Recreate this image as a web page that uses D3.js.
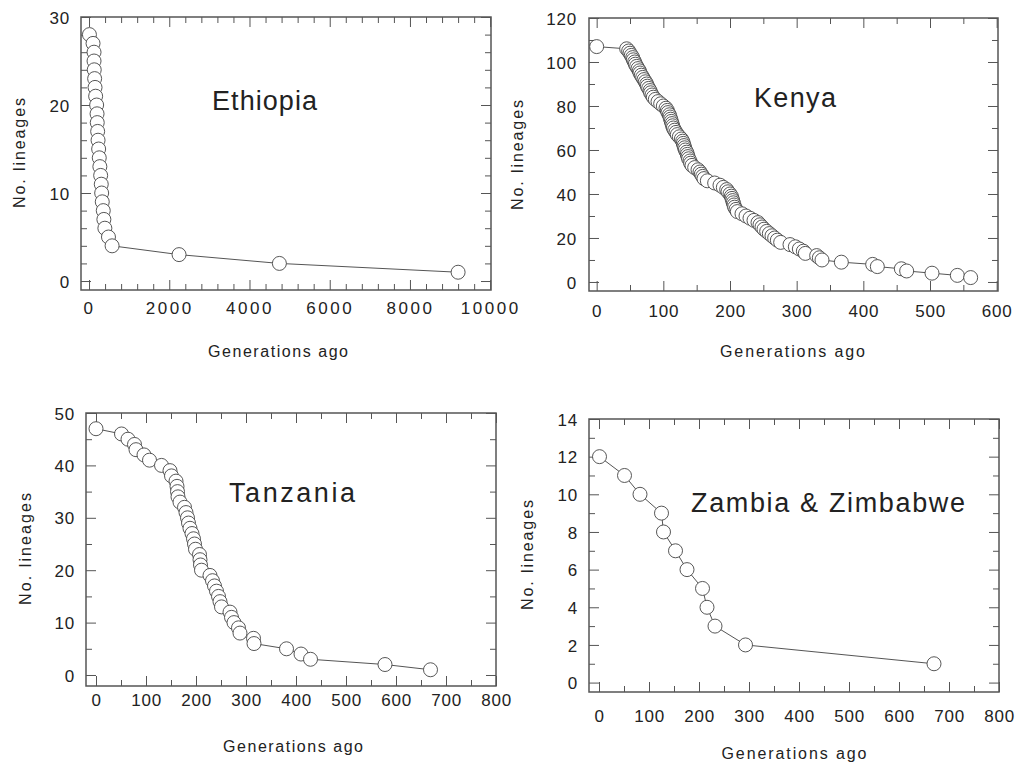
<!DOCTYPE html>
<html><head><meta charset="utf-8">
<script src="https://cdn.jsdelivr.net/npm/d3@7"></script>
<style>
body{margin:0;background:#fff;}
svg text{font-family:"Liberation Sans", Arial, sans-serif; fill:#222;}
</style></head><body>
<svg id="chart" width="1021" height="767"></svg>
<script>
// ---------- DATA ----------
const ethiopiaGen = [10, 100, 125, 125, 130, 140, 150, 165, 190, 200, 205, 215, 225, 240, 255, 270, 290, 305, 315, 330, 355, 370, 395, 485, 575, 2244, 4745, 9200];
const ethiopiaLineages = [28, 27, 26, 25, 24, 23, 22, 21, 20, 19, 18, 17, 16, 15, 14, 13, 12, 11, 10, 9, 8, 7, 6, 5, 4, 3, 2, 1];
const ethiopiaXTicks = [0, 2000, 4000, 6000, 8000, 10000];
const ethiopiaYTicks = [0, 10, 20, 30];

const kenyaGen = [0, 45, 48, 50, 52, 54, 55, 57, 58, 60, 62, 64, 65, 67, 69, 71, 73, 75, 76, 78, 80, 81, 83, 85, 88, 92, 96, 100, 104, 106,
  107, 109, 110, 111, 112, 113, 114, 115, 117, 119, 121, 124, 127, 129, 130, 131, 132, 133, 135, 136, 137, 138, 140, 141, 143, 147, 152, 155, 157, 159,
  161, 166, 177, 185, 190, 195, 197, 200, 202, 203, 204, 205, 206, 207, 209, 211, 218, 224, 230, 236, 242, 245, 248, 251, 255, 259, 263, 267, 271, 276,
  290, 298, 304, 310, 313, 330, 334, 338, 367, 414, 421, 457, 465, 503, 541, 561];
const kenyaLineages = [107, 106, 105, 104, 103, 102, 101, 100, 99, 98, 97, 96, 95, 94, 93, 92, 91, 90, 89, 88, 87, 86, 85, 84, 83, 82, 81, 80, 79, 78,
  77, 76, 75, 74, 73, 72, 71, 70, 69, 68, 67, 66, 65, 64, 63, 62, 61, 60, 59, 58, 57, 56, 55, 54, 53, 52, 51, 50, 49, 48,
  47, 46, 45, 44, 43, 42, 41, 40, 39, 38, 37, 36, 35, 34, 33, 32, 31, 30, 29, 28, 27, 26, 25, 24, 23, 22, 21, 20, 19, 18,
  17, 16, 15, 14, 13, 12, 11, 10, 9, 8, 7, 6, 5, 4, 3, 2];
const kenyaXTicks = [0, 100, 200, 300, 400, 500, 600];
const kenyaYTicks = [0, 20, 40, 60, 80, 100, 120];

const tanzaniaGen = [0, 51, 64, 77, 80, 96, 107, 131, 148, 151, 160, 162, 163, 164, 168, 177, 180, 183, 185, 188, 192, 195, 197, 199, 207, 208, 209, 211,
  228, 233, 237, 241, 245, 248, 251, 268, 271, 276, 285, 288, 315, 316, 381, 410, 429, 578, 669];
const tanzaniaLineages = [47, 46, 45, 44, 43, 42, 41, 40, 39, 38, 37, 36, 35, 34, 33, 32, 31, 30, 29, 28, 27, 26, 25, 24, 23, 22, 21, 20,
  19, 18, 17, 16, 15, 14, 13, 12, 11, 10, 9, 8, 7, 6, 5, 4, 3, 2, 1];
const tanzaniaXTicks = [0, 100, 200, 300, 400, 500, 600, 700, 800];
const tanzaniaYTicks = [0, 10, 20, 30, 40, 50];

const zambiaGen = [1, 51, 82, 125, 129, 153, 176, 207, 216, 232, 293, 670];
const zambiaLineages = [12, 11, 10, 9, 8, 7, 6, 5, 4, 3, 2, 1];
const zambiaXTicks = [0, 100, 200, 300, 400, 500, 600, 700, 800];
const zambiaYTicks = [0, 2, 4, 6, 8, 10, 12, 14];

const titles = ["Ethiopia", "Kenya", "Tanzania", "Zambia & Zimbabwe"];
const xAxisTitle = "Generations ago";
const yAxisTitle = "No. lineages";

// ---------- LAYOUT ----------
const panels = [
  { gen: ethiopiaGen, lin: ethiopiaLineages, xTicks: ethiopiaXTicks, yTicks: ethiopiaYTicks, title: titles[0],
    xDomain: [-200, 10020], yDomain: [-1.02, 30], frame: [81, 491, 17, 290],
    xMinor: [0, 10000, 400], yMinor: [0, 30, 2], xLabY: 308, yLabPad: 11, xLs: 2.5,
    tPos: [264.5, 110, 105], xtPos: [278, 357, 140], ytPos: [25, 153, 110] },
  { gen: kenyaGen, lin: kenyaLineages, xTicks: kenyaXTicks, yTicks: kenyaYTicks, title: titles[1],
    xDomain: [-11.5, 602], yDomain: [-4.1, 120], frame: [589, 998, 18, 291],
    xMinor: [0, 600, 50], yMinor: [0, 120, 10], xLabY: 311, yLabPad: 12, xLs: 0.8,
    tPos: [795, 107, 82], xtPos: [792.5, 357, 145], ytPos: [523, 155, 110] },
  { gen: tanzaniaGen, lin: tanzaniaLineages, xTicks: tanzaniaXTicks, yTicks: tanzaniaYTicks, title: titles[2],
    xDomain: [-20, 800], yDomain: [-2.1, 50], frame: [86, 496, 413, 686],
    xMinor: [0, 800, 50], yMinor: [0, 50, 5], xLabY: 700, yLabPad: 11, xLs: 0.8,
    tPos: [292, 502, 126], xtPos: [293, 752, 140], ytPos: [31, 549, 112] },
  { gen: zambiaGen, lin: zambiaLineages, xTicks: zambiaXTicks, yTicks: zambiaYTicks, title: titles[3],
    xDomain: [-20, 800], yDomain: [-0.5, 14], frame: [589, 999, 419, 692],
    xMinor: [0, 800, 50], yMinor: [0, 14, 1], xLabY: 716, yLabPad: 11, xLs: 0.8,
    tPos: [828, 512, 274], xtPos: [794, 759, 145], ytPos: [533, 555, 110] }
];

const svg = d3.select("#chart");
svg.append("rect").attr("width", 1021).attr("height", 767).attr("fill", "#fff");

function styleAxis(sel) {
  sel.select(".domain").remove();
  sel.selectAll(".tick line").attr("stroke", "#555").attr("stroke-width", 1);
  sel.attr("font-family", null).attr("font-size", null);
}

function drawPanel(p) {
  const [x0, x1, y0, y1] = p.frame;
  const g = svg.append("g");
  const x = d3.scaleLinear().domain(p.xDomain).range([x0, x1]);
  const y = d3.scaleLinear().domain(p.yDomain).range([y1, y0]);

  const xMinorVals = d3.range(p.xMinor[0], p.xMinor[1] + 1e-9, p.xMinor[2]).filter(v => !p.xTicks.includes(v));
  const yMinorVals = d3.range(p.yMinor[0], p.yMinor[1] + 1e-9, p.yMinor[2]).filter(v => !p.yTicks.includes(v));

  // minor ticks on all four sides
  g.append("g").attr("transform", `translate(0,${y1})`)
    .call(d3.axisBottom(x).tickValues(xMinorVals).tickSize(-6).tickFormat("")).call(styleAxis);
  g.append("g").attr("transform", `translate(0,${y0})`)
    .call(d3.axisTop(x).tickValues(xMinorVals).tickSize(-6).tickFormat("")).call(styleAxis);
  g.append("g").attr("transform", `translate(${x0},0)`)
    .call(d3.axisLeft(y).tickValues(yMinorVals).tickSize(-6).tickFormat("")).call(styleAxis);
  g.append("g").attr("transform", `translate(${x1},0)`)
    .call(d3.axisRight(y).tickValues(yMinorVals).tickSize(-6).tickFormat("")).call(styleAxis);

  // major ticks
  const bx = g.append("g").attr("transform", `translate(0,${y1})`)
    .call(d3.axisBottom(x).tickValues(p.xTicks).tickSize(-10).tickPadding(0).tickFormat(d3.format("d")))
    .call(styleAxis);
  bx.selectAll(".tick text").attr("y", p.xLabY - y1).attr("dy", "0.36em")
    .attr("font-size", 17).attr("letter-spacing", p.xLs + "px");
  g.append("g").attr("transform", `translate(0,${y0})`)
    .call(d3.axisTop(x).tickValues(p.xTicks).tickSize(-10).tickFormat("")).call(styleAxis);
  const ly = g.append("g").attr("transform", `translate(${x0},0)`)
    .call(d3.axisLeft(y).tickValues(p.yTicks).tickSize(-10).tickPadding(p.yLabPad).tickFormat(d3.format("d")))
    .call(styleAxis);
  ly.selectAll(".tick text").attr("x", -p.yLabPad).attr("dy", "0.36em").attr("font-size", 17).attr("letter-spacing", "0.8px");
  g.append("g").attr("transform", `translate(${x1},0)`)
    .call(d3.axisRight(y).tickValues(p.yTicks).tickSize(-10).tickFormat("")).call(styleAxis);

  // frame
  g.append("rect").attr("x", x0).attr("y", y0).attr("width", x1 - x0).attr("height", y1 - y0)
    .attr("fill", "none").attr("stroke", "#555").attr("stroke-width", 1.5);

  // data
  const pts = p.gen.map((v, i) => ({ g: v, n: p.lin[i] }));
  g.append("path").datum(pts)
    .attr("d", d3.line().x(d => x(d.g)).y(d => y(d.n)))
    .attr("fill", "none").attr("stroke", "#555").attr("stroke-width", 1);
  g.selectAll("circle.pt").data(pts).join("circle").attr("class", "pt")
    .attr("cx", d => x(d.g)).attr("cy", d => y(d.n)).attr("r", 7)
    .attr("fill", "#fff").attr("stroke", "#444").attr("stroke-width", 0.9);

  // titles
  g.append("text").attr("x", p.tPos[0]).attr("y", p.tPos[1]).attr("text-anchor", "middle")
    .attr("font-size", 27).attr("textLength", p.tPos[2]).attr("lengthAdjust", "spacing").text(p.title);
  g.append("text").attr("x", p.xtPos[0]).attr("y", p.xtPos[1]).attr("text-anchor", "middle")
    .attr("font-size", 16).attr("textLength", p.xtPos[2]).attr("lengthAdjust", "spacing").text(xAxisTitle);
  g.append("text").attr("transform", `translate(${p.ytPos[0]},${p.ytPos[1]}) rotate(-90)`)
    .attr("text-anchor", "middle").attr("font-size", 16)
    .attr("textLength", p.ytPos[2]).attr("lengthAdjust", "spacing").text(yAxisTitle);
}

panels.forEach(drawPanel);
</script></body></html>
